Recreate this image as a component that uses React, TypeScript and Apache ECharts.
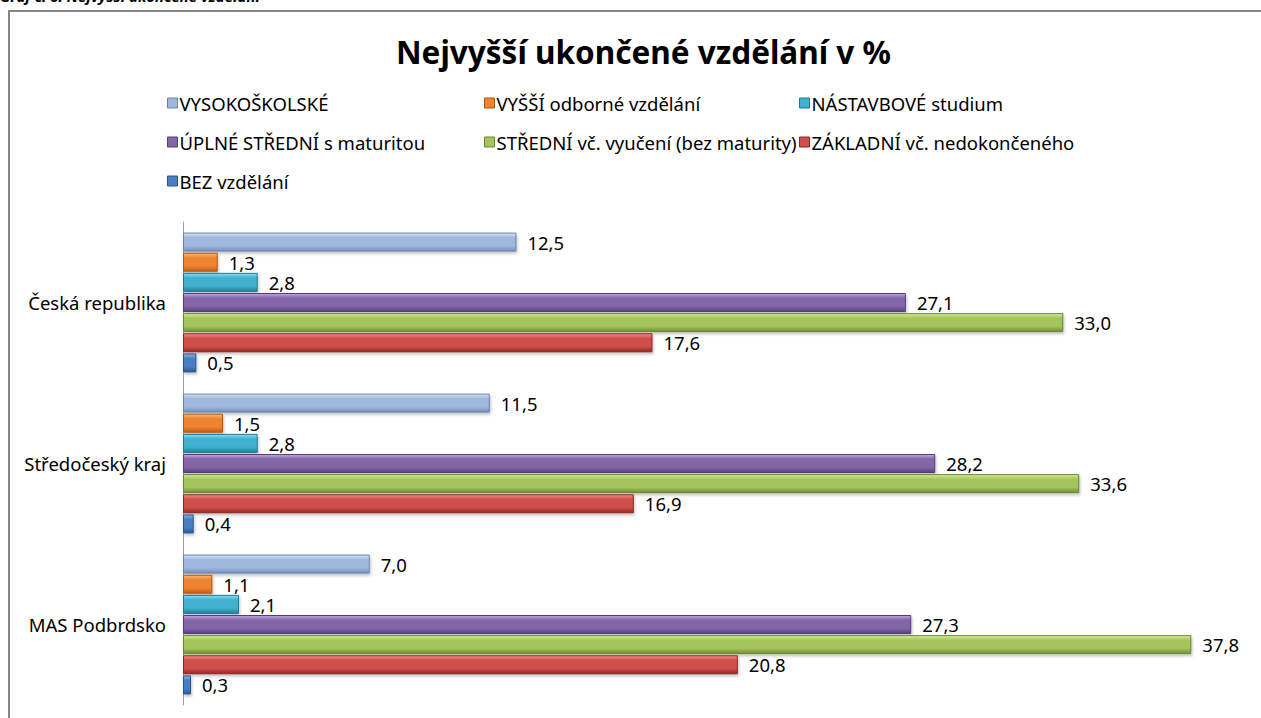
import React, { useEffect, useRef } from "react";
import * as echarts from "echarts";

const categories = ["Česká republika", "Středočeský kraj", "MAS Podbrdsko"];
const seriesNames = [
  "VYSOKOŠKOLSKÉ",
  "VYŠŠÍ odborné vzdělání",
  "NÁSTAVBOVÉ studium",
  "ÚPLNÉ STŘEDNÍ s maturitou",
  "STŘEDNÍ vč. vyučení (bez maturity)",
  "ZÁKLADNÍ vč. nedokončeného",
  "BEZ vzdělání",
];
const vysokoskolske = [12.5, 11.5, 7.0];
const vyssiOdborne = [1.3, 1.5, 1.1];
const nastavbove = [2.8, 2.8, 2.1];
const uplneStredni = [27.1, 28.2, 27.3];
const stredniVyuceni = [33.0, 33.6, 37.8];
const zakladni = [17.6, 16.9, 20.8];
const bezVzdelani = [0.5, 0.4, 0.3];
const seriesValues = [vysokoskolske, vyssiOdborne, nastavbove, uplneStredni, stredniVyuceni, zakladni, bezVzdelani];

// [light top, mid, dark bottom, border]
const palettes = [
  ["#dbe6f5", "#9fb8dc", "#7590bd", "#6a84b0"],
  ["#fbb77a", "#ee8430", "#c25f12", "#b0570f"],
  ["#8fdcf0", "#3fb2cf", "#237f98", "#1f7890"],
  ["#c2a9e3", "#8366a8", "#5b4380", "#553e78"],
  ["#d5ec9a", "#a4c55c", "#718e33", "#6b8630"],
  ["#f78b88", "#cf4f4b", "#932a27", "#8a2724"],
  ["#8fb5e6", "#4a7fc0", "#2b5a94", "#28548c"],
];

const FONT = "'Noto Sans', 'DejaVu Sans', sans-serif";
const FS = 18.5;

function fmt(v: number) {
  return v.toFixed(1).replace(".", ",");
}

export default function App() {
  const ref = useRef<HTMLDivElement>(null);
  useEffect(() => {
    if (!ref.current) return;
    const chart = echarts.init(ref.current, null, { renderer: "svg" });
    const series = seriesNames.map((name, i) => {
      const p = palettes[i];
      return {
        name,
        type: "bar",
        data: seriesValues[i],
        barWidth: 19,
        barGap: "6%",
        itemStyle: {
          color: new echarts.graphic.LinearGradient(0, 0, 0, 1, [
            { offset: 0, color: p[0] },
            { offset: 0.25, color: p[1] },
            { offset: 0.7, color: p[1] },
            { offset: 1, color: p[2] },
          ]),
          borderColor: p[3],
          borderWidth: 1,
          shadowColor: "rgba(0,0,0,0.25)",
          shadowBlur: 3,
          shadowOffsetX: 1,
          shadowOffsetY: 2,
        },
        label: {
          show: true,
          position: "right",
          distance: 11,
          formatter: (pr: any) => fmt(pr.value),
          color: "#000",
          fontSize: FS,
          fontFamily: FONT,
        },
      };
    });
    const legendIcon = (names: string[], left: number) => ({
      data: names.map((n) => ({
        name: n,
        itemStyle: {
          color: palettes[seriesNames.indexOf(n)][1],
          borderColor: palettes[seriesNames.indexOf(n)][3],
          borderWidth: 1,
        },
      })),
      orient: "vertical",
      left,
      top: 87,
      icon: "rect",
      itemWidth: 10,
      itemHeight: 10,
      itemGap: 17,
      textStyle: { fontSize: FS, fontFamily: FONT, color: "#000", lineHeight: 22, padding: [0, 0, 0, -3] },
      selectedMode: false,
    });
    chart.setOption({
      animation: false,
      backgroundColor: "transparent",
      title: {
        text: "Nejvyšší ukončené vzdělání v %",
        left: 391,
        top: 30,
        textStyle: { fontSize: 31.5, fontWeight: "bold", fontFamily: FONT, color: "#000" },
      },
      legend: [
        legendIcon([seriesNames[0], seriesNames[3], seriesNames[6]], 162),
        legendIcon([seriesNames[1], seriesNames[4]], 479),
        legendIcon([seriesNames[2], seriesNames[5]], 794),
      ],
      grid: { left: 183, right: 11, top: 222, bottom: 13, containLabel: false },
      xAxis: { type: "value", min: 0, max: 40, show: false },
      yAxis: {
        type: "category",
        data: categories,
        inverse: true,
        axisLine: { show: true, lineStyle: { color: "#a0a0a0", width: 1 } },
        axisTick: { show: false },
        axisLabel: { margin: 17, fontSize: FS, fontFamily: FONT, color: "#000" },
      },
      graphic: [
        {
          type: "text",
          left: 0,
          top: -12,
          style: {
            text: "Graf č. 6: Nejvyšší ukončené vzdělání",
            font: "italic bold 15px 'Noto Sans', sans-serif",
            fill: "#000",
          },
        },
      ],
      series,
    });
    return () => chart.dispose();
  }, []);
  return (
    <div style={{ position: "fixed", left: 0, top: 0, width: 1261, height: 718, overflow: "hidden", background: "#fff" }}>
      <div
        style={{
          position: "absolute",
          left: 8,
          top: 10,
          width: 1400,
          height: 900,
          borderLeft: "2px solid #868686",
          borderTop: "2px solid #868686",
        }}
      />
      <div ref={ref} style={{ position: "absolute", left: 0, top: 0, width: 1261, height: 718 }} />
    </div>
  );
}
